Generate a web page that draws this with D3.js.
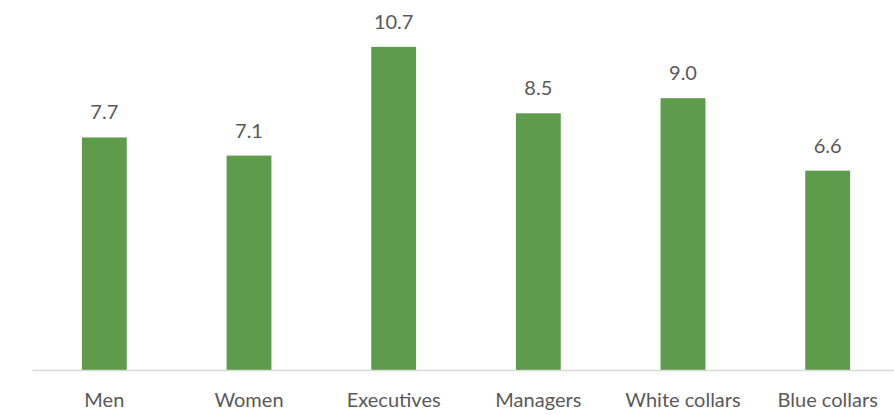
<!DOCTYPE html>
<html>
<head>
<meta charset="utf-8">
<script src="https://cdn.jsdelivr.net/npm/d3@7"></script>
<style>
  body { margin: 0; background: #fff; }
  text { font-family: Lato, "Open Sans", sans-serif; fill: #595959; }
</style>
</head>
<body>
<svg id="chart" width="894" height="415"></svg>
<script>
const categories = ['Men', 'Women', 'Executives', 'Managers', 'White collars', 'Blue collars']
const values = [7.7, 7.1, 10.7, 8.5, 9.0, 6.6]

const svg = d3.select('#chart')
const baseline = 370

const x = d3.scaleBand()
  .domain(categories)
  .range([32, 900])
  .paddingInner(0.69)
  .paddingOuter(0.345)

const y = d3.scaleLinear()
  .domain([0, 12])
  .range([baseline, baseline - 12 * 30.2])

// bars
svg.selectAll('.bar')
  .data(values)
  .enter()
  .append('rect')
  .attr('class', 'bar')
  .attr('x', (d, i) => x(categories[i]))
  .attr('y', d => y(d))
  .attr('width', x.bandwidth())
  .attr('height', d => baseline - y(d))
  .attr('fill', '#5e9b4b')

// value labels
svg.selectAll('.value')
  .data(values)
  .enter()
  .append('text')
  .attr('class', 'value')
  .attr('x', (d, i) => x(categories[i]) + x.bandwidth() / 2)
  .attr('y', d => y(d) - 18)
  .attr('text-anchor', 'middle')
  .style('font-size', '20px')
  .text(d => d.toFixed(1))

// x axis
const axis = svg.append('g')
  .attr('transform', `translate(0,${baseline})`)
  .call(d3.axisBottom(x).tickSize(0).tickPadding(0))
axis.select('.domain').attr('stroke', '#d9d9d9').attr('stroke-width', 1.5)
axis.selectAll('text')
  .attr('dy', null)
  .attr('y', 37)
  .style('font-size', '20px')
  .style('font-family', 'Lato, "Open Sans", sans-serif')
  .attr('fill', '#595959')
</script>
</body>
</html>
